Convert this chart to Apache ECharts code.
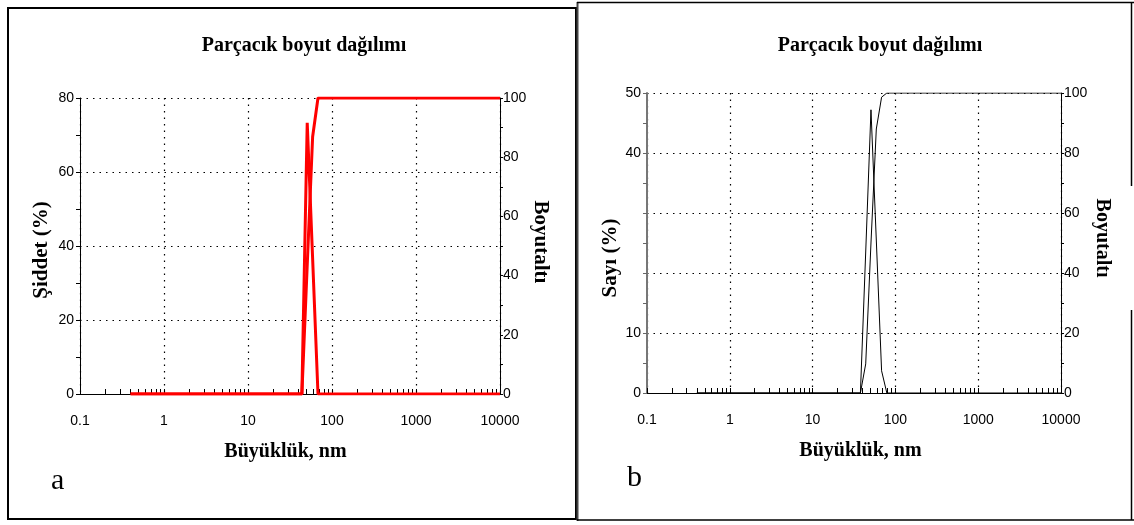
<!DOCTYPE html>
<html>
<head>
<meta charset="utf-8">
<script src="https://cdn.jsdelivr.net/npm/echarts@6/dist/echarts.min.js"></script>
<style>
html,body{margin:0;padding:0;background:#fff;}
#chart{width:1134px;height:525px;}
</style>
</head>
<body>
<div id="chart"></div>
<script>
// ---- data ----
const chartTitle = 'Parçacık boyut dağılımı';
const xName = 'Büyüklük, nm';
const xTickValues = [0.1, 1, 10, 100, 1000, 10000];

// panel a : intensity distribution + undersize (red)
const sizesA = [0.4, 43.8, 50.7, 58.8, 68.1, 10000];
const intensityA = [0, 0, 73.3, 36.6, 0, 0];
const undersizeA = [0, 0, 43.5, 86.9, 100, 100];

// panel b : number distribution + undersize (black)
const sizesB = [0.4, 37.8, 43.8, 50.7, 58.8, 68.1, 78.8, 10000];
const numberB = [0, 0, 23.5, 47.2, 25.5, 3.7, 0, 0];
const undersizeB = [0, 0, 9.7, 50, 88, 98.6, 100, 100];

const yLabelsBLeft = [0, 10, 40, 50];

// ---- helpers ----
function pairs(xs, ys) { return xs.map((x, i) => [x, ys[i]]); }
const logMinorTicks = [];
[0.1, 1, 10, 100, 1000].forEach(d => {
  for (let m = 1; m <= 9; m++) logMinorTicks.push(Math.log10(d * m));
});
logMinorTicks.push(4);

const tickFont = '"Liberation Sans Narrow", "Arial Narrow", "Liberation Sans", sans-serif';
const serif = '"Liberation Serif", "Times New Roman", serif';
const dotted = { type: [1.5, 5], color: '#000', width: 1.2 };

function mainX(grid, pad) {
  return {
    gridIndex: grid, type: 'log', logBase: 10, min: 0.1, max: 10000,
    axisLine: { onZero: false, lineStyle: { color: '#000', width: 1 } },
    axisTick: { show: false },
    axisLabel: { margin: 20, color: '#000', fontFamily: tickFont, fontSize: 14,
      formatter: v => { const t = xTickValues.find(q => Math.abs(q - v) / q < 1e-6); return t === undefined ? '' : String(t); } },
    splitLine: { show: true, lineStyle: dotted },
    name: xName, nameLocation: 'middle', nameGap: 48,
    nameTextStyle: { fontFamily: serif, fontWeight: 'bold', fontSize: 20, color: '#000', padding: pad }
  };
}
function tickX(grid) {
  return {
    gridIndex: grid, type: 'value', min: -1, max: 4, position: 'bottom',
    axisLine: { show: false, onZero: false }, axisLabel: { show: false }, splitLine: { show: false },
    axisTick: { show: true, inside: true, length: 5, customValues: logMinorTicks, lineStyle: { color: '#000', width: 1 } }
  };
}

const option = {
  animation: false,
  backgroundColor: '#fff',
  grid: [
    { left: 80, right: 634, top: 98, bottom: 131 },
    { left: 647, right: 73, top: 93, bottom: 132 }
  ],
  xAxis: [mainX(0, [0, 9, 0, 0]), tickX(0), mainX(1, [0, 0, 0, 13]), tickX(1)],
  yAxis: [
    { gridIndex: 0, type: 'value', position: 'left', min: 0, max: 80, interval: 20,
      axisLine: { show: true, onZero: false, lineStyle: { color: '#000' } },
      axisTick: { show: true, length: 4, lineStyle: { color: '#000' } },
      minorTick: { show: true, splitNumber: 2, length: 4, lineStyle: { color: '#000' } },
      axisLabel: { margin: 6, color: '#000', fontFamily: tickFont, fontSize: 14 },
      splitLine: { show: true, lineStyle: dotted },
      name: 'Şiddet (%)', nameLocation: 'middle', nameRotate: 90, nameGap: 28,
      nameTextStyle: { fontFamily: serif, fontWeight: 'bold', fontSize: 21, color: '#000', padding: [0, 8, 0, 0] } },
    { gridIndex: 0, type: 'value', position: 'right', min: 0, max: 100, interval: 20,
      axisLine: { show: true, onZero: false, lineStyle: { color: '#000' } },
      axisTick: { show: true, length: 3, lineStyle: { color: '#000' } },
      minorTick: { show: true, splitNumber: 2, length: 3, lineStyle: { color: '#000' } },
      axisLabel: { margin: 3, color: '#000', fontFamily: tickFont, fontSize: 14 },
      splitLine: { show: false },
      name: 'Boyutaltı', nameLocation: 'middle', nameRotate: -90, nameGap: 29,
      nameTextStyle: { fontFamily: serif, fontWeight: 'bold', fontSize: 21, color: '#000', padding: [0, 8, 0, 0] } },
    { gridIndex: 1, type: 'value', position: 'left', min: 0, max: 50, interval: 10,
      axisLine: { show: true, onZero: false, lineStyle: { color: '#777', width: 2 } },
      axisTick: { show: true, length: 4, lineStyle: { color: '#666' } },
      minorTick: { show: true, splitNumber: 2, length: 4, lineStyle: { color: '#666' } },
      axisLabel: { margin: 6, color: '#000', fontFamily: tickFont, fontSize: 14,
        formatter: v => yLabelsBLeft.includes(v) ? String(v) : '' },
      splitLine: { show: true, lineStyle: dotted },
      name: 'Sayı (%)', nameLocation: 'middle', nameRotate: 90, nameGap: 19,
      nameTextStyle: { fontFamily: serif, fontWeight: 'bold', fontSize: 21, color: '#000', padding: [0, 30, 0, 0] } },
    { gridIndex: 1, type: 'value', position: 'right', min: 0, max: 100, interval: 20,
      axisLine: { show: true, onZero: false, lineStyle: { color: '#000' } },
      axisTick: { show: true, length: 3, lineStyle: { color: '#000' } },
      minorTick: { show: true, splitNumber: 2, length: 3, lineStyle: { color: '#000' } },
      axisLabel: { margin: 3, color: '#000', fontFamily: tickFont, fontSize: 14 },
      splitLine: { show: false },
      name: 'Boyutaltı', nameLocation: 'middle', nameRotate: -90, nameGap: 31,
      nameTextStyle: { fontFamily: serif, fontWeight: 'bold', fontSize: 20, color: '#000', padding: [0, 10, 0, 0] } }
  ],
  series: [
    { name: 'Şiddet', type: 'line', xAxisIndex: 0, yAxisIndex: 0, data: pairs(sizesA, intensityA),
      symbol: 'none', lineStyle: { color: '#ff0000', width: 3 }, z: 3 },
    { name: 'Boyutaltı a', type: 'line', xAxisIndex: 0, yAxisIndex: 1, data: pairs(sizesA, undersizeA),
      symbol: 'none', lineStyle: { color: '#ff0000', width: 3 }, z: 3 },
    { name: 'Sayı', type: 'line', xAxisIndex: 2, yAxisIndex: 2, data: pairs(sizesB, numberB),
      symbol: 'none', lineStyle: { color: '#000', width: 1 }, z: 3 },
    { name: 'Boyutaltı b', type: 'line', xAxisIndex: 2, yAxisIndex: 3, data: pairs(sizesB, undersizeB),
      symbol: 'none', lineStyle: { color: '#000', width: 1 }, z: 3 }
  ],
  graphic: [
    { type: 'text', x: 304, y: 46, style: { text: chartTitle, font: 'bold 20px ' + serif, fill: '#000', align: 'center', verticalAlign: 'middle' } },
    { type: 'text', x: 880, y: 46, style: { text: chartTitle, font: 'bold 20px ' + serif, fill: '#000', align: 'center', verticalAlign: 'middle' } },
    { type: 'text', x: 51, y: 481, style: { text: 'a', font: '30px ' + serif, fill: '#000', align: 'left', verticalAlign: 'middle' } },
    { type: 'text', x: 627, y: 478, style: { text: 'b', font: '30px ' + serif, fill: '#000', align: 'left', verticalAlign: 'middle' } },
    // panel frames
    { type: 'rect', shape: { x: 8, y: 8, width: 568, height: 511 }, style: { fill: 'none', stroke: '#000', lineWidth: 2 } },
    { type: 'line', shape: { x1: 577.5, y1: 2, x2: 577.5, y2: 521 }, style: { stroke: '#444', lineWidth: 2 } },
    { type: 'line', shape: { x1: 577, y1: 2.5, x2: 1134, y2: 2.5 }, style: { stroke: '#000', lineWidth: 1.5 } },
    { type: 'line', shape: { x1: 577, y1: 520, x2: 1134, y2: 520 }, style: { stroke: '#000', lineWidth: 1.5 } },
    { type: 'line', shape: { x1: 1131.5, y1: 2, x2: 1131.5, y2: 186 }, style: { stroke: '#000', lineWidth: 1.5 } },
    { type: 'line', shape: { x1: 1131.5, y1: 310, x2: 1131.5, y2: 520 }, style: { stroke: '#000', lineWidth: 1.5 } }
  ]
};

const chart = echarts.init(document.getElementById('chart'), null, { renderer: 'canvas' });
chart.setOption(option);
</script>
</body>
</html>
